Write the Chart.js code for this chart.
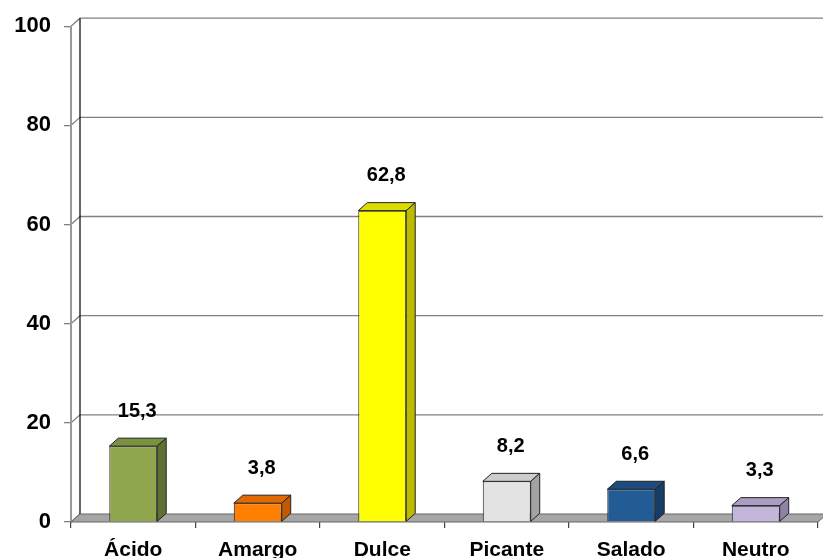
<!DOCTYPE html>
<html>
<head>
<meta charset="utf-8">
<script src="https://cdn.jsdelivr.net/npm/chart.js@4.4.1/dist/chart.umd.min.js"></script>
<style>
  html, body { margin: 0; padding: 0; background: #fff; overflow: hidden; }
  #wrap { width: 823px; height: 558px; overflow: hidden; }
</style>
</head>
<body>
<div id="wrap"><canvas id="chart" width="823" height="580"></canvas></div>
<script>
// Data
const categories = ['Ácido', 'Amargo', 'Dulce', 'Picante', 'Salado', 'Neutro'];
const values = [15.3, 3.8, 62.8, 8.2, 6.6, 3.3];
const yTicks = [0, 20, 40, 60, 80, 100];

// Face colours of the 3D columns: front, top, side
const frontColors = ['#8fa64f', '#ff7f00', '#ffff00', '#e3e3e3', '#235b95', '#c4b5da'];
const topColors = ['#7a923f', '#e06a00', '#dcdc00', '#cdcdcd', '#1d4c7e', '#aa9dc1'];
const sideColors = ['#5f7034', '#c05a00', '#bbbb00', '#a3a3a3', '#173e66', '#8f83a5'];

// depth offset of the 3D box
const DX = 9;
const DY = -8;

const FONT = '"Liberation Sans", Arial, sans-serif';

const ctx = document.getElementById('chart').getContext('2d');

const wallsPlugin = {
    id: 'walls',
    beforeDatasetsDraw(chart) {
        const c = chart.ctx;
        const area = chart.chartArea;
        const y = chart.scales.y;
        const right = chart.width;
        c.save();

        // back wall gridlines and diagonal lines on the side wall
        c.strokeStyle = '#808080';
        c.lineWidth = 1.3;
        yTicks.forEach(v => {
            const py = y.getPixelForValue(v);
            c.beginPath();
            c.moveTo(area.left, py);
            c.lineTo(area.left + DX, py + DY);
            if (v !== 0) c.lineTo(right, py + DY);
            c.stroke();
        });

        // front vertical axis line
        c.lineWidth = 2;
        c.strokeStyle = '#999';
        c.beginPath();
        c.moveTo(area.left, y.getPixelForValue(100));
        c.lineTo(area.left, y.getPixelForValue(0));
        c.stroke();

        // back wall left edge
        c.strokeStyle = '#000';
        c.lineWidth = 1.2;
        c.beginPath();
        c.moveTo(area.left + DX, y.getPixelForValue(100) + DY);
        c.lineTo(area.left + DX, y.getPixelForValue(0) + DY);
        c.stroke();

        // floor
        const y0 = y.getPixelForValue(0);
        c.fillStyle = '#a6a6a6';
        c.strokeStyle = '#666';
        c.lineWidth = 1;
        c.beginPath();
        c.moveTo(area.left, y0);
        c.lineTo(area.right, y0);
        c.lineTo(area.right + DX, y0 + DY);
        c.lineTo(area.left + DX, y0 + DY);
        c.closePath();
        c.fill();
        c.stroke();
        c.restore();
    },
    afterDatasetsDraw(chart) {
        const c = chart.ctx;
        const meta = chart.getDatasetMeta(0);
        c.save();
        c.lineWidth = 1;
        c.strokeStyle = '#222';
        meta.data.forEach((bar, i) => {
            const l = bar.x - bar.width / 2;
            const r = bar.x + bar.width / 2;
            const t = bar.y;
            const b = bar.base;

            // top face
            c.fillStyle = topColors[i];
            c.beginPath();
            c.moveTo(l, t);
            c.lineTo(l + DX, t + DY);
            c.lineTo(r + DX, t + DY);
            c.lineTo(r, t);
            c.closePath();
            c.fill();
            c.stroke();

            // side face
            c.fillStyle = sideColors[i];
            c.beginPath();
            c.moveTo(r, t);
            c.lineTo(r + DX, t + DY);
            c.lineTo(r + DX, b + DY);
            c.lineTo(r, b);
            c.closePath();
            c.fill();
            c.stroke();

            // value label
            c.fillStyle = '#000';
            c.font = 'bold 20px ' + FONT;
            c.textAlign = 'center';
            c.textBaseline = 'middle';
            c.fillText(values[i].toFixed(1).replace('.', ','), bar.x + 4, t - 35);
        });
        c.restore();
    }
};

new Chart(ctx, {
    type: 'bar',
    data: {
        labels: categories,
        datasets: [{
            data: values,
            backgroundColor: frontColors,
            borderColor: '#222',
            borderWidth: 1,
            categoryPercentage: 1,
            barPercentage: 0.385
        }]
    },
    options: {
        responsive: false,
        animation: false,
        layout: { padding: { top: 23, right: 5, left: 0, bottom: 0 } },
        plugins: {
            legend: { display: false },
            tooltip: { enabled: false }
        },
        scales: {
            x: {
                afterFit: scale => { scale.height = 58; },
                border: { display: false },
                grid: {
                    drawOnChartArea: false,
                    tickLength: 6,
                    color: '#444',
                    lineWidth: 1.2
                },
                ticks: {
                    color: '#000',
                    padding: 10,
                    font: { family: FONT, size: 21, weight: 'bold' }
                }
            },
            y: {
                min: 0,
                max: 100,
                afterFit: scale => { scale.width = 71; },
                border: { display: false },
                grid: {
                    drawOnChartArea: false,
                    tickLength: 7,
                    color: '#808080',
                    lineWidth: 1.3
                },
                ticks: {
                    stepSize: 20,
                    color: '#000',
                    padding: 13,
                    font: { family: FONT, size: 22, weight: 'bold' }
                }
            }
        }
    },
    plugins: [wallsPlugin]
});
</script>
</body>
</html>
